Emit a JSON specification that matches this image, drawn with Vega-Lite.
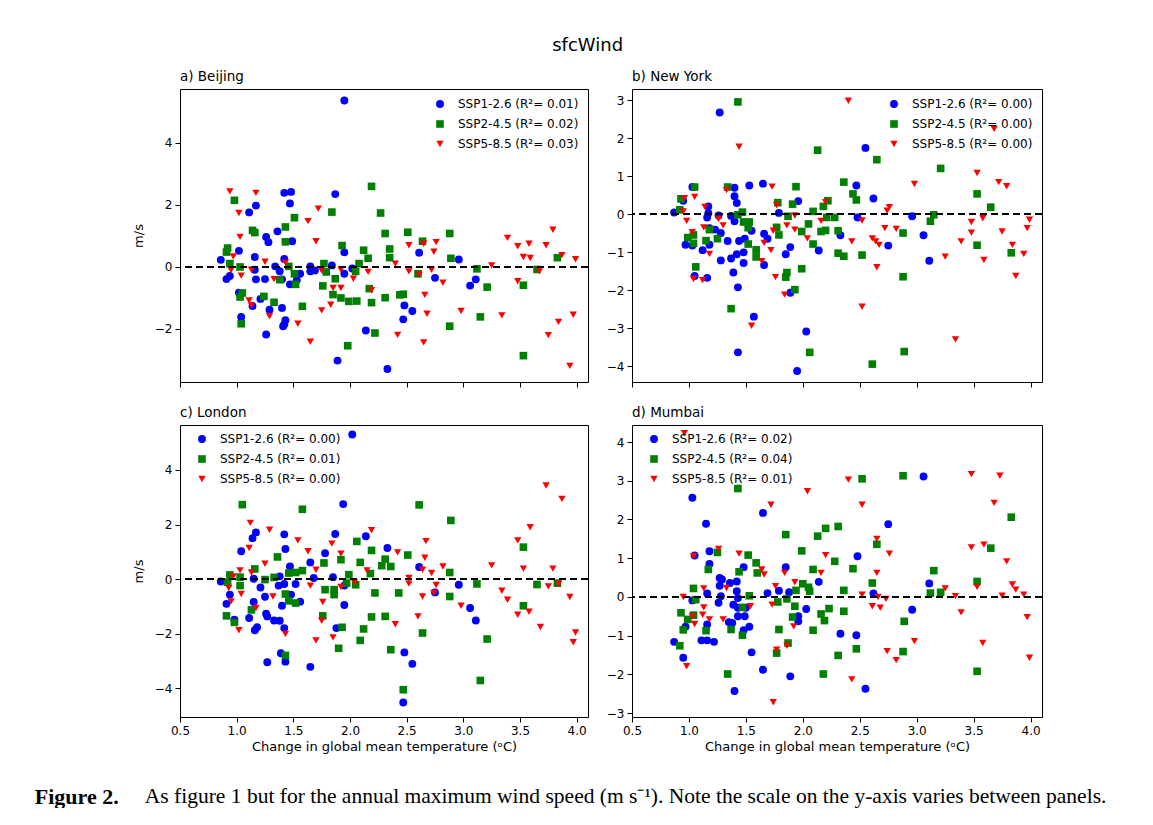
{
  "$schema": "https://vega.github.io/schema/vega-lite/v6.json",
  "background": "white",
  "padding": {"left": 34, "top": 37, "right": 0, "bottom": 0},
  "config": {
    "font": "DejaVu Sans",
    "view": {"stroke": "black", "strokeWidth": 1},
    "axis": {"domain": false, "grid": false, "tickColor": "black", "tickSize": 5, "tickWidth": 1, "labelColor": "black", "labelFontSize": 12, "labelFont": "DejaVu Sans", "titleFont": "DejaVu Sans", "titleFontSize": 13, "titleFontWeight": "normal", "titleColor": "black", "labelPadding": 3},
    "axisY": {"titlePadding": 9},
    "axisX": {"titlePadding": 4, "labelFlush": false},
    "legend": {"symbolOpacity": 1, "labelFontSize": 12, "labelFont": "DejaVu Sans", "labelColor": "black", "rowPadding": 6, "offset": 9, "labelOffset": 12, "padding": 0},
    "point": {"filled": true, "opacity": 1}
  },
  "datasets": {
    "a": [
      {"s":"SSP1-2.6","x":1.42,"y":2.39},{"s":"SSP1-2.6","x":1.48,"y":2.42},{"s":"SSP1-2.6","x":1.47,"y":2.05},{"s":"SSP1-2.6","x":1.17,"y":1.98},{"s":"SSP1-2.6","x":1.11,"y":1.76},{"s":"SSP1-2.6","x":1.36,"y":1.15},{"s":"SSP1-2.6","x":1.26,"y":0.97},{"s":"SSP1-2.6","x":1.28,"y":0.8},{"s":"SSP1-2.6","x":1.49,"y":0.83},{"s":"SSP1-2.6","x":1.02,"y":0.52},{"s":"SSP1-2.6","x":1.16,"y":0.32},{"s":"SSP1-2.6","x":0.86,"y":0.23},{"s":"SSP1-2.6","x":1.42,"y":0.26},{"s":"SSP1-2.6","x":1.16,"y":-0.09},{"s":"SSP1-2.6","x":1.34,"y":0.02},{"s":"SSP1-2.6","x":1.38,"y":-0.14},{"s":"SSP1-2.6","x":1.4,"y":-0.4},{"s":"SSP1-2.6","x":1.65,"y":0.02},{"s":"SSP1-2.6","x":1.65,"y":-0.14},{"s":"SSP1-2.6","x":1.56,"y":-0.22},{"s":"SSP1-2.6","x":0.94,"y":-0.29},{"s":"SSP1-2.6","x":0.91,"y":-0.39},{"s":"SSP1-2.6","x":1.17,"y":-0.4},{"s":"SSP1-2.6","x":1.25,"y":-0.39},{"s":"SSP1-2.6","x":1.47,"y":-0.56},{"s":"SSP1-2.6","x":1.53,"y":-0.43},{"s":"SSP1-2.6","x":1.02,"y":-0.83},{"s":"SSP1-2.6","x":1.21,"y":-1.03},{"s":"SSP1-2.6","x":1.14,"y":-1.26},{"s":"SSP1-2.6","x":1.29,"y":-1.38},{"s":"SSP1-2.6","x":1.4,"y":-1.32},{"s":"SSP1-2.6","x":1.04,"y":-1.61},{"s":"SSP1-2.6","x":1.43,"y":-1.72},{"s":"SSP1-2.6","x":1.41,"y":-1.91},{"s":"SSP1-2.6","x":1.42,"y":-1.85},{"s":"SSP1-2.6","x":1.26,"y":-2.18},{"s":"SSP1-2.6","x":1.95,"y":5.37},{"s":"SSP1-2.6","x":1.87,"y":2.35},{"s":"SSP1-2.6","x":1.95,"y":0.47},{"s":"SSP1-2.6","x":1.84,"y":0.05},{"s":"SSP1-2.6","x":1.69,"y":-0.11},{"s":"SSP1-2.6","x":1.95,"y":-0.22},{"s":"SSP1-2.6","x":2.02,"y":-0.05},{"s":"SSP1-2.6","x":2.61,"y":0.46},{"s":"SSP1-2.6","x":2.75,"y":-0.35},{"s":"SSP1-2.6","x":2.48,"y":-1.24},{"s":"SSP1-2.6","x":2.55,"y":-1.42},{"s":"SSP1-2.6","x":2.47,"y":-1.69},{"s":"SSP1-2.6","x":2.14,"y":-2.05},{"s":"SSP1-2.6","x":1.89,"y":-3.02},{"s":"SSP1-2.6","x":2.33,"y":-3.29},{"s":"SSP1-2.6","x":2.96,"y":0.24},{"s":"SSP1-2.6","x":3.11,"y":-0.4},{"s":"SSP1-2.6","x":3.06,"y":-0.6},
      {"s":"SSP2-4.5","x":0.98,"y":2.15},{"s":"SSP2-4.5","x":1.51,"y":1.59},{"s":"SSP2-4.5","x":1.43,"y":1.29},{"s":"SSP2-4.5","x":1.14,"y":1.18},{"s":"SSP2-4.5","x":1.16,"y":1.11},{"s":"SSP2-4.5","x":1.43,"y":0.81},{"s":"SSP2-4.5","x":0.92,"y":0.61},{"s":"SSP2-4.5","x":0.91,"y":0.48},{"s":"SSP2-4.5","x":0.94,"y":0.11},{"s":"SSP2-4.5","x":1.03,"y":0.0},{"s":"SSP2-4.5","x":1.46,"y":0.02},{"s":"SSP2-4.5","x":1.51,"y":-0.22},{"s":"SSP2-4.5","x":1.38,"y":-0.41},{"s":"SSP2-4.5","x":1.52,"y":-0.56},{"s":"SSP2-4.5","x":1.05,"y":-0.84},{"s":"SSP2-4.5","x":1.03,"y":-0.97},{"s":"SSP2-4.5","x":1.24,"y":-0.95},{"s":"SSP2-4.5","x":1.33,"y":-1.14},{"s":"SSP2-4.5","x":1.58,"y":-1.27},{"s":"SSP2-4.5","x":1.04,"y":-1.83},{"s":"SSP2-4.5","x":2.19,"y":2.6},{"s":"SSP2-4.5","x":1.84,"y":1.77},{"s":"SSP2-4.5","x":2.27,"y":1.74},{"s":"SSP2-4.5","x":2.31,"y":1.08},{"s":"SSP2-4.5","x":2.51,"y":1.12},{"s":"SSP2-4.5","x":2.88,"y":1.08},{"s":"SSP2-4.5","x":1.93,"y":0.69},{"s":"SSP2-4.5","x":2.12,"y":0.54},{"s":"SSP2-4.5","x":2.16,"y":0.28},{"s":"SSP2-4.5","x":2.35,"y":0.58},{"s":"SSP2-4.5","x":2.35,"y":0.3},{"s":"SSP2-4.5","x":2.64,"y":0.83},{"s":"SSP2-4.5","x":2.89,"y":0.28},{"s":"SSP2-4.5","x":1.77,"y":0.11},{"s":"SSP2-4.5","x":2.08,"y":0.11},{"s":"SSP2-4.5","x":1.79,"y":-0.16},{"s":"SSP2-4.5","x":2.05,"y":-0.14},{"s":"SSP2-4.5","x":1.87,"y":-0.38},{"s":"SSP2-4.5","x":2.6,"y":-0.22},{"s":"SSP2-4.5","x":1.76,"y":-0.61},{"s":"SSP2-4.5","x":1.85,"y":-0.89},{"s":"SSP2-4.5","x":1.92,"y":-1.0},{"s":"SSP2-4.5","x":1.99,"y":-1.11},{"s":"SSP2-4.5","x":2.06,"y":-1.1},{"s":"SSP2-4.5","x":2.17,"y":-0.7},{"s":"SSP2-4.5","x":2.19,"y":-1.15},{"s":"SSP2-4.5","x":2.31,"y":-0.99},{"s":"SSP2-4.5","x":2.44,"y":-0.9},{"s":"SSP2-4.5","x":2.47,"y":-0.88},{"s":"SSP2-4.5","x":2.88,"y":-1.91},{"s":"SSP2-4.5","x":2.22,"y":-2.13},{"s":"SSP2-4.5","x":1.98,"y":-2.54},{"s":"SSP2-4.5","x":3.12,"y":-0.06},{"s":"SSP2-4.5","x":3.21,"y":-0.65},{"s":"SSP2-4.5","x":3.53,"y":-0.59},{"s":"SSP2-4.5","x":3.65,"y":-0.08},{"s":"SSP2-4.5","x":3.83,"y":0.3},{"s":"SSP2-4.5","x":3.15,"y":-1.61},{"s":"SSP2-4.5","x":3.53,"y":-2.86},
      {"s":"SSP5-8.5","x":0.94,"y":2.44},{"s":"SSP5-8.5","x":1.17,"y":2.39},{"s":"SSP5-8.5","x":1.02,"y":1.74},{"s":"SSP5-8.5","x":1.72,"y":1.88},{"s":"SSP5-8.5","x":1.63,"y":1.48},{"s":"SSP5-8.5","x":1.03,"y":0.97},{"s":"SSP5-8.5","x":1.7,"y":0.83},{"s":"SSP5-8.5","x":0.97,"y":0.34},{"s":"SSP5-8.5","x":1.25,"y":0.17},{"s":"SSP5-8.5","x":1.43,"y":0.14},{"s":"SSP5-8.5","x":0.95,"y":-0.1},{"s":"SSP5-8.5","x":1.04,"y":-0.28},{"s":"SSP5-8.5","x":1.13,"y":-0.09},{"s":"SSP5-8.5","x":1.33,"y":-0.39},{"s":"SSP5-8.5","x":1.75,"y":-0.12},{"s":"SSP5-8.5","x":1.11,"y":-1.08},{"s":"SSP5-8.5","x":1.13,"y":-1.24},{"s":"SSP5-8.5","x":1.29,"y":-1.59},{"s":"SSP5-8.5","x":1.54,"y":-1.83},{"s":"SSP5-8.5","x":1.65,"y":-2.41},{"s":"SSP5-8.5","x":1.75,"y":-1.4},{"s":"SSP5-8.5","x":1.92,"y":-0.09},{"s":"SSP5-8.5","x":2.03,"y":-0.38},{"s":"SSP5-8.5","x":2.16,"y":-0.16},{"s":"SSP5-8.5","x":1.85,"y":-0.68},{"s":"SSP5-8.5","x":1.92,"y":-0.68},{"s":"SSP5-8.5","x":2.19,"y":-0.75},{"s":"SSP5-8.5","x":1.83,"y":-1.22},{"s":"SSP5-8.5","x":2.4,"y":0.11},{"s":"SSP5-8.5","x":2.52,"y":-0.14},{"s":"SSP5-8.5","x":2.52,"y":0.7},{"s":"SSP5-8.5","x":2.65,"y":0.75},{"s":"SSP5-8.5","x":2.76,"y":0.8},{"s":"SSP5-8.5","x":2.74,"y":0.49},{"s":"SSP5-8.5","x":2.61,"y":-0.25},{"s":"SSP5-8.5","x":2.72,"y":-0.09},{"s":"SSP5-8.5","x":2.82,"y":-0.51},{"s":"SSP5-8.5","x":2.66,"y":-0.9},{"s":"SSP5-8.5","x":2.68,"y":-1.51},{"s":"SSP5-8.5","x":2.42,"y":-2.19},{"s":"SSP5-8.5","x":2.65,"y":-2.43},{"s":"SSP5-8.5","x":3.25,"y":0.05},{"s":"SSP5-8.5","x":3.39,"y":0.94},{"s":"SSP5-8.5","x":3.48,"y":0.67},{"s":"SSP5-8.5","x":3.58,"y":0.75},{"s":"SSP5-8.5","x":3.53,"y":0.32},{"s":"SSP5-8.5","x":3.59,"y":0.29},{"s":"SSP5-8.5","x":3.73,"y":0.7},{"s":"SSP5-8.5","x":3.79,"y":1.2},{"s":"SSP5-8.5","x":3.87,"y":0.38},{"s":"SSP5-8.5","x":3.99,"y":0.25},{"s":"SSP5-8.5","x":3.67,"y":-0.14},{"s":"SSP5-8.5","x":3.48,"y":-0.46},{"s":"SSP5-8.5","x":2.98,"y":-1.42},{"s":"SSP5-8.5","x":3.34,"y":-1.56},{"s":"SSP5-8.5","x":3.97,"y":-1.54},{"s":"SSP5-8.5","x":3.84,"y":-1.77},{"s":"SSP5-8.5","x":3.75,"y":-2.2},{"s":"SSP5-8.5","x":3.94,"y":-3.19}
    ],
    "b": [
      {"s":"SSP1-2.6","x":1.27,"y":2.67},{"s":"SSP1-2.6","x":1.03,"y":0.71},{"s":"SSP1-2.6","x":1.53,"y":0.75},{"s":"SSP1-2.6","x":1.65,"y":0.8},{"s":"SSP1-2.6","x":1.4,"y":0.69},{"s":"SSP1-2.6","x":1.4,"y":0.47},{"s":"SSP1-2.6","x":1.42,"y":0.29},{"s":"SSP1-2.6","x":1.17,"y":0.2},{"s":"SSP1-2.6","x":0.87,"y":0.04},{"s":"SSP1-2.6","x":0.95,"y":0.35},{"s":"SSP1-2.6","x":1.17,"y":0.02},{"s":"SSP1-2.6","x":1.16,"y":-0.09},{"s":"SSP1-2.6","x":1.26,"y":-0.04},{"s":"SSP1-2.6","x":1.37,"y":-0.05},{"s":"SSP1-2.6","x":1.4,"y":-0.19},{"s":"SSP1-2.6","x":1.49,"y":-0.65},{"s":"SSP1-2.6","x":1.55,"y":-0.44},{"s":"SSP1-2.6","x":1.66,"y":-0.52},{"s":"SSP1-2.6","x":1.69,"y":-0.65},{"s":"SSP1-2.6","x":1.18,"y":-0.37},{"s":"SSP1-2.6","x":1.23,"y":-0.41},{"s":"SSP1-2.6","x":1.28,"y":-0.5},{"s":"SSP1-2.6","x":1.34,"y":-0.71},{"s":"SSP1-2.6","x":1.44,"y":-0.71},{"s":"SSP1-2.6","x":0.97,"y":-0.81},{"s":"SSP1-2.6","x":1.03,"y":-0.83},{"s":"SSP1-2.6","x":1.12,"y":-0.95},{"s":"SSP1-2.6","x":1.18,"y":-0.81},{"s":"SSP1-2.6","x":1.28,"y":-1.22},{"s":"SSP1-2.6","x":1.37,"y":-1.17},{"s":"SSP1-2.6","x":1.42,"y":-1.06},{"s":"SSP1-2.6","x":1.48,"y":-1.01},{"s":"SSP1-2.6","x":1.48,"y":-1.29},{"s":"SSP1-2.6","x":1.66,"y":-1.34},{"s":"SSP1-2.6","x":1.39,"y":-1.54},{"s":"SSP1-2.6","x":1.05,"y":-1.63},{"s":"SSP1-2.6","x":1.16,"y":-1.68},{"s":"SSP1-2.6","x":1.43,"y":-1.93},{"s":"SSP1-2.6","x":1.57,"y":-2.7},{"s":"SSP1-2.6","x":1.43,"y":-3.64},{"s":"SSP1-2.6","x":2.55,"y":1.74},{"s":"SSP1-2.6","x":2.47,"y":0.75},{"s":"SSP1-2.6","x":2.62,"y":0.41},{"s":"SSP1-2.6","x":1.96,"y":0.34},{"s":"SSP1-2.6","x":1.79,"y":0.03},{"s":"SSP1-2.6","x":2.48,"y":-0.09},{"s":"SSP1-2.6","x":2.33,"y":-0.56},{"s":"SSP1-2.6","x":1.89,"y":-0.87},{"s":"SSP1-2.6","x":1.85,"y":-1.06},{"s":"SSP1-2.6","x":2.14,"y":-0.96},{"s":"SSP1-2.6","x":2.75,"y":-0.83},{"s":"SSP1-2.6","x":1.89,"y":-2.07},{"s":"SSP1-2.6","x":2.03,"y":-3.09},{"s":"SSP1-2.6","x":1.95,"y":-4.13},{"s":"SSP1-2.6","x":2.96,"y":-0.06},{"s":"SSP1-2.6","x":3.06,"y":-0.56},{"s":"SSP1-2.6","x":3.11,"y":-1.23},
      {"s":"SSP2-4.5","x":1.43,"y":2.95},{"s":"SSP2-4.5","x":1.05,"y":0.71},{"s":"SSP2-4.5","x":1.34,"y":0.71},{"s":"SSP2-4.5","x":0.93,"y":0.4},{"s":"SSP2-4.5","x":0.92,"y":0.11},{"s":"SSP2-4.5","x":1.47,"y":0.05},{"s":"SSP2-4.5","x":1.43,"y":-0.02},{"s":"SSP2-4.5","x":1.48,"y":-0.21},{"s":"SSP2-4.5","x":1.53,"y":-0.21},{"s":"SSP2-4.5","x":1.52,"y":-0.36},{"s":"SSP2-4.5","x":1.18,"y":-0.41},{"s":"SSP2-4.5","x":1.25,"y":-0.65},{"s":"SSP2-4.5","x":1.15,"y":-0.7},{"s":"SSP2-4.5","x":0.99,"y":-0.62},{"s":"SSP2-4.5","x":1.04,"y":-0.55},{"s":"SSP2-4.5","x":1.04,"y":-0.77},{"s":"SSP2-4.5","x":1.52,"y":-0.79},{"s":"SSP2-4.5","x":1.59,"y":-0.94},{"s":"SSP2-4.5","x":1.59,"y":-1.13},{"s":"SSP2-4.5","x":1.06,"y":-1.39},{"s":"SSP2-4.5","x":1.37,"y":-2.49},{"s":"SSP2-4.5","x":2.13,"y":1.68},{"s":"SSP2-4.5","x":2.65,"y":1.43},{"s":"SSP2-4.5","x":2.36,"y":0.84},{"s":"SSP2-4.5","x":1.94,"y":0.72},{"s":"SSP2-4.5","x":2.44,"y":0.53},{"s":"SSP2-4.5","x":2.47,"y":0.37},{"s":"SSP2-4.5","x":1.78,"y":0.3},{"s":"SSP2-4.5","x":1.91,"y":0.26},{"s":"SSP2-4.5","x":2.22,"y":0.35},{"s":"SSP2-4.5","x":2.18,"y":0.2},{"s":"SSP2-4.5","x":2.09,"y":0.07},{"s":"SSP2-4.5","x":1.87,"y":-0.06},{"s":"SSP2-4.5","x":2.21,"y":-0.09},{"s":"SSP2-4.5","x":2.28,"y":-0.09},{"s":"SSP2-4.5","x":2.05,"y":-0.26},{"s":"SSP2-4.5","x":1.77,"y":-0.35},{"s":"SSP2-4.5","x":1.79,"y":-0.55},{"s":"SSP2-4.5","x":1.99,"y":-0.46},{"s":"SSP2-4.5","x":2.16,"y":-0.46},{"s":"SSP2-4.5","x":2.2,"y":-0.43},{"s":"SSP2-4.5","x":2.31,"y":-0.44},{"s":"SSP2-4.5","x":2.09,"y":-0.79},{"s":"SSP2-4.5","x":2.31,"y":-1.03},{"s":"SSP2-4.5","x":2.36,"y":-1.11},{"s":"SSP2-4.5","x":2.52,"y":-1.08},{"s":"SSP2-4.5","x":1.99,"y":-1.44},{"s":"SSP2-4.5","x":1.86,"y":-1.54},{"s":"SSP2-4.5","x":1.85,"y":-1.66},{"s":"SSP2-4.5","x":1.93,"y":-1.99},{"s":"SSP2-4.5","x":2.06,"y":-3.64},{"s":"SSP2-4.5","x":2.61,"y":-3.95},{"s":"SSP2-4.5","x":3.21,"y":1.2},{"s":"SSP2-4.5","x":3.53,"y":0.53},{"s":"SSP2-4.5","x":3.65,"y":0.18},{"s":"SSP2-4.5","x":3.15,"y":-0.02},{"s":"SSP2-4.5","x":3.12,"y":-0.19},{"s":"SSP2-4.5","x":2.88,"y":-0.5},{"s":"SSP2-4.5","x":3.53,"y":-0.82},{"s":"SSP2-4.5","x":3.83,"y":-1.02},{"s":"SSP2-4.5","x":2.88,"y":-1.65},{"s":"SSP2-4.5","x":2.89,"y":-3.62},
      {"s":"SSP5-8.5","x":1.44,"y":1.77},{"s":"SSP5-8.5","x":0.96,"y":0.42},{"s":"SSP5-8.5","x":1.05,"y":0.45},{"s":"SSP5-8.5","x":1.33,"y":0.63},{"s":"SSP5-8.5","x":1.14,"y":0.19},{"s":"SSP5-8.5","x":0.95,"y":0.07},{"s":"SSP5-8.5","x":0.98,"y":-0.18},{"s":"SSP5-8.5","x":1.26,"y":-0.13},{"s":"SSP5-8.5","x":1.3,"y":-0.3},{"s":"SSP5-8.5","x":1.13,"y":-0.35},{"s":"SSP5-8.5","x":1.03,"y":-0.48},{"s":"SSP5-8.5","x":1.18,"y":-1.05},{"s":"SSP5-8.5","x":1.66,"y":-0.76},{"s":"SSP5-8.5","x":1.64,"y":-1.24},{"s":"SSP5-8.5","x":1.04,"y":-1.71},{"s":"SSP5-8.5","x":1.12,"y":-1.74},{"s":"SSP5-8.5","x":1.55,"y":-2.94},{"s":"SSP5-8.5","x":2.4,"y":2.98},{"s":"SSP5-8.5","x":1.73,"y":0.72},{"s":"SSP5-8.5","x":1.77,"y":0.23},{"s":"SSP5-8.5","x":2.2,"y":0.31},{"s":"SSP5-8.5","x":1.93,"y":-0.04},{"s":"SSP5-8.5","x":2.16,"y":-0.18},{"s":"SSP5-8.5","x":2.52,"y":-0.17},{"s":"SSP5-8.5","x":2.76,"y":0.18},{"s":"SSP5-8.5","x":2.74,"y":0.09},{"s":"SSP5-8.5","x":1.86,"y":-0.3},{"s":"SSP5-8.5","x":1.93,"y":-0.41},{"s":"SSP5-8.5","x":1.74,"y":-0.44},{"s":"SSP5-8.5","x":2.04,"y":-0.64},{"s":"SSP5-8.5","x":1.72,"y":-0.95},{"s":"SSP5-8.5","x":2.43,"y":-0.72},{"s":"SSP5-8.5","x":2.61,"y":-0.64},{"s":"SSP5-8.5","x":2.64,"y":-0.72},{"s":"SSP5-8.5","x":2.67,"y":-0.81},{"s":"SSP5-8.5","x":2.72,"y":-0.37},{"s":"SSP5-8.5","x":2.82,"y":-0.39},{"s":"SSP5-8.5","x":2.65,"y":-1.4},{"s":"SSP5-8.5","x":1.76,"y":-1.66},{"s":"SSP5-8.5","x":1.84,"y":-2.12},{"s":"SSP5-8.5","x":2.52,"y":-2.44},{"s":"SSP5-8.5","x":3.68,"y":2.24},{"s":"SSP5-8.5","x":3.53,"y":1.08},{"s":"SSP5-8.5","x":2.98,"y":0.79},{"s":"SSP5-8.5","x":3.72,"y":0.84},{"s":"SSP5-8.5","x":3.79,"y":0.73},{"s":"SSP5-8.5","x":3.48,"y":-0.21},{"s":"SSP5-8.5","x":3.58,"y":-0.11},{"s":"SSP5-8.5","x":3.99,"y":-0.15},{"s":"SSP5-8.5","x":3.97,"y":-0.37},{"s":"SSP5-8.5","x":3.48,"y":-0.49},{"s":"SSP5-8.5","x":3.75,"y":-0.46},{"s":"SSP5-8.5","x":3.39,"y":-0.72},{"s":"SSP5-8.5","x":3.84,"y":-0.81},{"s":"SSP5-8.5","x":3.94,"y":-1.05},{"s":"SSP5-8.5","x":3.25,"y":-1.12},{"s":"SSP5-8.5","x":3.59,"y":-1.21},{"s":"SSP5-8.5","x":3.87,"y":-1.63},{"s":"SSP5-8.5","x":3.34,"y":-3.3}
    ],
    "c": [
      {"s":"SSP1-2.6","x":1.17,"y":1.71},{"s":"SSP1-2.6","x":1.14,"y":1.5},{"s":"SSP1-2.6","x":1.42,"y":1.64},{"s":"SSP1-2.6","x":1.04,"y":1.02},{"s":"SSP1-2.6","x":1.43,"y":1.1},{"s":"SSP1-2.6","x":1.65,"y":0.61},{"s":"SSP1-2.6","x":1.47,"y":0.46},{"s":"SSP1-2.6","x":0.86,"y":-0.09},{"s":"SSP1-2.6","x":1.15,"y":0.01},{"s":"SSP1-2.6","x":1.21,"y":-0.31},{"s":"SSP1-2.6","x":1.38,"y":0.1},{"s":"SSP1-2.6","x":1.37,"y":-0.24},{"s":"SSP1-2.6","x":1.42,"y":-0.18},{"s":"SSP1-2.6","x":1.52,"y":-0.18},{"s":"SSP1-2.6","x":1.68,"y":0.04},{"s":"SSP1-2.6","x":0.94,"y":-0.57},{"s":"SSP1-2.6","x":0.91,"y":-0.91},{"s":"SSP1-2.6","x":1.15,"y":-0.84},{"s":"SSP1-2.6","x":1.25,"y":-0.65},{"s":"SSP1-2.6","x":1.4,"y":-0.98},{"s":"SSP1-2.6","x":1.48,"y":-0.57},{"s":"SSP1-2.6","x":1.56,"y":-0.83},{"s":"SSP1-2.6","x":0.98,"y":-1.49},{"s":"SSP1-2.6","x":1.11,"y":-1.43},{"s":"SSP1-2.6","x":1.26,"y":-1.27},{"s":"SSP1-2.6","x":1.27,"y":-1.37},{"s":"SSP1-2.6","x":1.33,"y":-1.52},{"s":"SSP1-2.6","x":1.38,"y":-1.53},{"s":"SSP1-2.6","x":1.18,"y":-1.77},{"s":"SSP1-2.6","x":1.16,"y":-1.88},{"s":"SSP1-2.6","x":1.42,"y":-1.8},{"s":"SSP1-2.6","x":1.39,"y":-2.72},{"s":"SSP1-2.6","x":1.43,"y":-3.03},{"s":"SSP1-2.6","x":1.27,"y":-3.05},{"s":"SSP1-2.6","x":1.65,"y":-3.22},{"s":"SSP1-2.6","x":2.02,"y":5.3},{"s":"SSP1-2.6","x":1.94,"y":2.75},{"s":"SSP1-2.6","x":2.14,"y":1.57},{"s":"SSP1-2.6","x":1.87,"y":1.65},{"s":"SSP1-2.6","x":1.78,"y":0.95},{"s":"SSP1-2.6","x":2.33,"y":1.14},{"s":"SSP1-2.6","x":1.85,"y":0.07},{"s":"SSP1-2.6","x":1.95,"y":-0.24},{"s":"SSP1-2.6","x":2.61,"y":0.44},{"s":"SSP1-2.6","x":2.75,"y":-0.49},{"s":"SSP1-2.6","x":1.95,"y":-0.95},{"s":"SSP1-2.6","x":1.88,"y":-1.8},{"s":"SSP1-2.6","x":2.48,"y":-2.69},{"s":"SSP1-2.6","x":2.55,"y":-3.11},{"s":"SSP1-2.6","x":2.47,"y":-4.53},{"s":"SSP1-2.6","x":2.96,"y":-0.21},{"s":"SSP1-2.6","x":3.06,"y":-1.06},{"s":"SSP1-2.6","x":3.11,"y":-1.52},
      {"s":"SSP2-4.5","x":1.05,"y":2.73},{"s":"SSP2-4.5","x":1.58,"y":2.56},{"s":"SSP2-4.5","x":1.36,"y":0.81},{"s":"SSP2-4.5","x":1.16,"y":0.37},{"s":"SSP2-4.5","x":0.94,"y":0.15},{"s":"SSP2-4.5","x":0.92,"y":-0.12},{"s":"SSP2-4.5","x":1.03,"y":0.07},{"s":"SSP2-4.5","x":1.03,"y":-0.24},{"s":"SSP2-4.5","x":1.25,"y":-0.02},{"s":"SSP2-4.5","x":1.33,"y":0.06},{"s":"SSP2-4.5","x":1.46,"y":0.22},{"s":"SSP2-4.5","x":1.52,"y":0.24},{"s":"SSP2-4.5","x":1.58,"y":0.31},{"s":"SSP2-4.5","x":1.43,"y":-0.55},{"s":"SSP2-4.5","x":1.46,"y":-0.8},{"s":"SSP2-4.5","x":1.52,"y":-0.88},{"s":"SSP2-4.5","x":1.13,"y":-1.13},{"s":"SSP2-4.5","x":0.91,"y":-1.35},{"s":"SSP2-4.5","x":0.98,"y":-1.59},{"s":"SSP2-4.5","x":1.43,"y":-2.8},{"s":"SSP2-4.5","x":2.61,"y":2.72},{"s":"SSP2-4.5","x":2.89,"y":2.15},{"s":"SSP2-4.5","x":2.06,"y":1.38},{"s":"SSP2-4.5","x":2.19,"y":1.05},{"s":"SSP2-4.5","x":2.51,"y":0.88},{"s":"SSP2-4.5","x":1.92,"y":0.71},{"s":"SSP2-4.5","x":1.77,"y":0.59},{"s":"SSP2-4.5","x":2.09,"y":0.61},{"s":"SSP2-4.5","x":2.31,"y":0.73},{"s":"SSP2-4.5","x":2.28,"y":0.49},{"s":"SSP2-4.5","x":2.36,"y":0.46},{"s":"SSP2-4.5","x":1.99,"y":0.16},{"s":"SSP2-4.5","x":1.97,"y":-0.15},{"s":"SSP2-4.5","x":2.05,"y":-0.21},{"s":"SSP2-4.5","x":1.78,"y":-0.39},{"s":"SSP2-4.5","x":1.86,"y":-0.39},{"s":"SSP2-4.5","x":1.86,"y":-0.57},{"s":"SSP2-4.5","x":2.18,"y":0.2},{"s":"SSP2-4.5","x":2.22,"y":-0.51},{"s":"SSP2-4.5","x":2.43,"y":-0.51},{"s":"SSP2-4.5","x":2.88,"y":0.24},{"s":"SSP2-4.5","x":2.88,"y":-0.64},{"s":"SSP2-4.5","x":1.76,"y":-1.35},{"s":"SSP2-4.5","x":2.19,"y":-1.39},{"s":"SSP2-4.5","x":2.31,"y":-1.37},{"s":"SSP2-4.5","x":1.93,"y":-1.77},{"s":"SSP2-4.5","x":2.12,"y":-1.83},{"s":"SSP2-4.5","x":2.64,"y":-1.98},{"s":"SSP2-4.5","x":2.09,"y":-2.25},{"s":"SSP2-4.5","x":1.9,"y":-2.54},{"s":"SSP2-4.5","x":2.36,"y":-2.59},{"s":"SSP2-4.5","x":2.47,"y":-4.06},{"s":"SSP2-4.5","x":3.12,"y":-0.18},{"s":"SSP2-4.5","x":3.53,"y":1.17},{"s":"SSP2-4.5","x":3.53,"y":-0.98},{"s":"SSP2-4.5","x":3.65,"y":-0.2},{"s":"SSP2-4.5","x":3.83,"y":-0.15},{"s":"SSP2-4.5","x":3.21,"y":-2.2},{"s":"SSP2-4.5","x":3.15,"y":-3.72},
      {"s":"SSP5-8.5","x":1.12,"y":2.06},{"s":"SSP5-8.5","x":1.29,"y":1.81},{"s":"SSP5-8.5","x":1.54,"y":1.42},{"s":"SSP5-8.5","x":1.11,"y":1.14},{"s":"SSP5-8.5","x":1.63,"y":1.02},{"s":"SSP5-8.5","x":1.25,"y":0.56},{"s":"SSP5-8.5","x":1.03,"y":0.32},{"s":"SSP5-8.5","x":1.13,"y":0.24},{"s":"SSP5-8.5","x":0.97,"y":0.1},{"s":"SSP5-8.5","x":1.7,"y":0.34},{"s":"SSP5-8.5","x":0.93,"y":-0.33},{"s":"SSP5-8.5","x":1.04,"y":-0.55},{"s":"SSP5-8.5","x":1.65,"y":-0.24},{"s":"SSP5-8.5","x":0.95,"y":-0.82},{"s":"SSP5-8.5","x":1.32,"y":-0.64},{"s":"SSP5-8.5","x":1.17,"y":-1.06},{"s":"SSP5-8.5","x":1.02,"y":-1.88},{"s":"SSP5-8.5","x":1.43,"y":-2.01},{"s":"SSP5-8.5","x":1.7,"y":-2.25},{"s":"SSP5-8.5","x":2.19,"y":1.79},{"s":"SSP5-8.5","x":2.67,"y":1.39},{"s":"SSP5-8.5","x":1.84,"y":1.3},{"s":"SSP5-8.5","x":1.92,"y":0.93},{"s":"SSP5-8.5","x":2.42,"y":0.98},{"s":"SSP5-8.5","x":2.66,"y":0.78},{"s":"SSP5-8.5","x":2.15,"y":0.32},{"s":"SSP5-8.5","x":2.64,"y":0.34},{"s":"SSP5-8.5","x":2.72,"y":0.22},{"s":"SSP5-8.5","x":2.82,"y":0.46},{"s":"SSP5-8.5","x":2.52,"y":0.04},{"s":"SSP5-8.5","x":2.52,"y":-0.17},{"s":"SSP5-8.5","x":2.04,"y":-0.12},{"s":"SSP5-8.5","x":1.92,"y":-0.29},{"s":"SSP5-8.5","x":2.76,"y":-0.22},{"s":"SSP5-8.5","x":2.64,"y":-0.64},{"s":"SSP5-8.5","x":2.74,"y":-0.51},{"s":"SSP5-8.5","x":1.76,"y":-0.84},{"s":"SSP5-8.5","x":1.75,"y":-1.53},{"s":"SSP5-8.5","x":2.6,"y":-1.37},{"s":"SSP5-8.5","x":2.4,"y":-1.66},{"s":"SSP5-8.5","x":1.85,"y":-2.14},{"s":"SSP5-8.5","x":3.73,"y":3.43},{"s":"SSP5-8.5","x":3.87,"y":2.94},{"s":"SSP5-8.5","x":3.59,"y":1.9},{"s":"SSP5-8.5","x":3.48,"y":1.42},{"s":"SSP5-8.5","x":3.25,"y":0.5},{"s":"SSP5-8.5","x":3.53,"y":0.38},{"s":"SSP5-8.5","x":3.79,"y":0.38},{"s":"SSP5-8.5","x":3.75,"y":-0.27},{"s":"SSP5-8.5","x":3.84,"y":-0.18},{"s":"SSP5-8.5","x":3.34,"y":-0.43},{"s":"SSP5-8.5","x":3.39,"y":-0.76},{"s":"SSP5-8.5","x":3.94,"y":-0.66},{"s":"SSP5-8.5","x":2.98,"y":-0.98},{"s":"SSP5-8.5","x":3.48,"y":-1.31},{"s":"SSP5-8.5","x":3.58,"y":-1.2},{"s":"SSP5-8.5","x":3.68,"y":-1.76},{"s":"SSP5-8.5","x":3.99,"y":-1.96},{"s":"SSP5-8.5","x":3.97,"y":-2.32}
    ],
    "d": [
      {"s":"SSP1-2.6","x":1.03,"y":2.56},{"s":"SSP1-2.6","x":1.15,"y":1.89},{"s":"SSP1-2.6","x":1.65,"y":2.17},{"s":"SSP1-2.6","x":1.18,"y":1.18},{"s":"SSP1-2.6","x":1.05,"y":1.07},{"s":"SSP1-2.6","x":1.18,"y":0.85},{"s":"SSP1-2.6","x":1.48,"y":0.77},{"s":"SSP1-2.6","x":1.27,"y":0.49},{"s":"SSP1-2.6","x":1.29,"y":0.45},{"s":"SSP1-2.6","x":1.27,"y":0.29},{"s":"SSP1-2.6","x":1.42,"y":0.4},{"s":"SSP1-2.6","x":1.36,"y":0.36},{"s":"SSP1-2.6","x":1.16,"y":0.09},{"s":"SSP1-2.6","x":1.28,"y":0.02},{"s":"SSP1-2.6","x":1.42,"y":0.15},{"s":"SSP1-2.6","x":1.43,"y":-0.03},{"s":"SSP1-2.6","x":1.26,"y":-0.15},{"s":"SSP1-2.6","x":1.03,"y":-0.09},{"s":"SSP1-2.6","x":1.39,"y":-0.2},{"s":"SSP1-2.6","x":1.43,"y":-0.28},{"s":"SSP1-2.6","x":1.69,"y":0.1},{"s":"SSP1-2.6","x":1.5,"y":-0.28},{"s":"SSP1-2.6","x":1.43,"y":-0.5},{"s":"SSP1-2.6","x":1.49,"y":-0.5},{"s":"SSP1-2.6","x":1.35,"y":-0.65},{"s":"SSP1-2.6","x":1.38,"y":-0.67},{"s":"SSP1-2.6","x":1.16,"y":-0.71},{"s":"SSP1-2.6","x":0.97,"y":-0.77},{"s":"SSP1-2.6","x":1.53,"y":-0.77},{"s":"SSP1-2.6","x":1.48,"y":-0.86},{"s":"SSP1-2.6","x":1.11,"y":-1.12},{"s":"SSP1-2.6","x":1.16,"y":-1.12},{"s":"SSP1-2.6","x":1.22,"y":-1.16},{"s":"SSP1-2.6","x":0.87,"y":-1.16},{"s":"SSP1-2.6","x":1.55,"y":-1.43},{"s":"SSP1-2.6","x":0.95,"y":-1.57},{"s":"SSP1-2.6","x":1.65,"y":-1.88},{"s":"SSP1-2.6","x":1.4,"y":-2.43},{"s":"SSP1-2.6","x":2.75,"y":1.88},{"s":"SSP1-2.6","x":2.48,"y":1.05},{"s":"SSP1-2.6","x":1.85,"y":0.77},{"s":"SSP1-2.6","x":2.14,"y":0.39},{"s":"SSP1-2.6","x":1.79,"y":0.16},{"s":"SSP1-2.6","x":1.88,"y":0.12},{"s":"SSP1-2.6","x":2.62,"y":0.09},{"s":"SSP1-2.6","x":2.03,"y":-0.31},{"s":"SSP1-2.6","x":1.96,"y":-0.5},{"s":"SSP1-2.6","x":1.96,"y":-0.63},{"s":"SSP1-2.6","x":2.33,"y":-0.95},{"s":"SSP1-2.6","x":2.47,"y":-0.99},{"s":"SSP1-2.6","x":1.89,"y":-2.05},{"s":"SSP1-2.6","x":2.55,"y":-2.37},{"s":"SSP1-2.6","x":3.06,"y":3.11},{"s":"SSP1-2.6","x":3.11,"y":0.35},{"s":"SSP1-2.6","x":2.96,"y":-0.33},
      {"s":"SSP2-4.5","x":1.43,"y":2.8},{"s":"SSP2-4.5","x":1.25,"y":1.15},{"s":"SSP2-4.5","x":1.52,"y":1.08},{"s":"SSP2-4.5","x":1.59,"y":0.88},{"s":"SSP2-4.5","x":1.6,"y":0.62},{"s":"SSP2-4.5","x":1.17,"y":0.71},{"s":"SSP2-4.5","x":1.44,"y":0.65},{"s":"SSP2-4.5","x":1.04,"y":0.22},{"s":"SSP2-4.5","x":1.06,"y":-0.07},{"s":"SSP2-4.5","x":1.53,"y":0.03},{"s":"SSP2-4.5","x":1.47,"y":-0.27},{"s":"SSP2-4.5","x":1.04,"y":-0.47},{"s":"SSP2-4.5","x":0.93,"y":-0.41},{"s":"SSP2-4.5","x":0.99,"y":-0.58},{"s":"SSP2-4.5","x":1.37,"y":-0.84},{"s":"SSP2-4.5","x":1.15,"y":-0.87},{"s":"SSP2-4.5","x":0.95,"y":-0.85},{"s":"SSP2-4.5","x":1.47,"y":-0.99},{"s":"SSP2-4.5","x":0.92,"y":-1.26},{"s":"SSP2-4.5","x":1.34,"y":-1.99},{"s":"SSP2-4.5","x":2.52,"y":3.05},{"s":"SSP2-4.5","x":2.88,"y":3.13},{"s":"SSP2-4.5","x":2.31,"y":1.82},{"s":"SSP2-4.5","x":2.2,"y":1.77},{"s":"SSP2-4.5","x":2.13,"y":1.57},{"s":"SSP2-4.5","x":1.85,"y":1.61},{"s":"SSP2-4.5","x":1.99,"y":1.19},{"s":"SSP2-4.5","x":2.65,"y":1.36},{"s":"SSP2-4.5","x":2.28,"y":0.92},{"s":"SSP2-4.5","x":2.44,"y":0.73},{"s":"SSP2-4.5","x":2.09,"y":0.71},{"s":"SSP2-4.5","x":2.61,"y":0.36},{"s":"SSP2-4.5","x":2.0,"y":0.34},{"s":"SSP2-4.5","x":2.05,"y":0.25},{"s":"SSP2-4.5","x":2.06,"y":0.15},{"s":"SSP2-4.5","x":1.94,"y":0.17},{"s":"SSP2-4.5","x":2.36,"y":0.17},{"s":"SSP2-4.5","x":1.86,"y":-0.05},{"s":"SSP2-4.5","x":1.78,"y":-0.13},{"s":"SSP2-4.5","x":1.93,"y":-0.24},{"s":"SSP2-4.5","x":2.23,"y":-0.3},{"s":"SSP2-4.5","x":2.36,"y":-0.37},{"s":"SSP2-4.5","x":2.16,"y":-0.44},{"s":"SSP2-4.5","x":2.19,"y":-0.61},{"s":"SSP2-4.5","x":1.91,"y":-0.52},{"s":"SSP2-4.5","x":2.89,"y":-0.63},{"s":"SSP2-4.5","x":1.79,"y":-0.84},{"s":"SSP2-4.5","x":2.09,"y":-0.86},{"s":"SSP2-4.5","x":1.87,"y":-1.19},{"s":"SSP2-4.5","x":1.77,"y":-1.45},{"s":"SSP2-4.5","x":2.47,"y":-1.34},{"s":"SSP2-4.5","x":2.88,"y":-1.41},{"s":"SSP2-4.5","x":2.31,"y":-1.51},{"s":"SSP2-4.5","x":2.18,"y":-1.99},{"s":"SSP2-4.5","x":3.83,"y":2.06},{"s":"SSP2-4.5","x":3.65,"y":1.26},{"s":"SSP2-4.5","x":3.15,"y":0.68},{"s":"SSP2-4.5","x":3.53,"y":0.4},{"s":"SSP2-4.5","x":3.12,"y":0.1},{"s":"SSP2-4.5","x":3.21,"y":0.12},{"s":"SSP2-4.5","x":3.53,"y":-1.92},
      {"s":"SSP5-8.5","x":0.96,"y":4.23},{"s":"SSP5-8.5","x":1.72,"y":2.38},{"s":"SSP5-8.5","x":1.04,"y":1.05},{"s":"SSP5-8.5","x":1.26,"y":1.24},{"s":"SSP5-8.5","x":1.44,"y":1.12},{"s":"SSP5-8.5","x":1.64,"y":0.71},{"s":"SSP5-8.5","x":1.66,"y":0.58},{"s":"SSP5-8.5","x":1.13,"y":0.22},{"s":"SSP5-8.5","x":1.33,"y":0.23},{"s":"SSP5-8.5","x":0.95,"y":0.0},{"s":"SSP5-8.5","x":1.13,"y":-0.27},{"s":"SSP5-8.5","x":1.54,"y":-0.24},{"s":"SSP5-8.5","x":1.03,"y":-0.5},{"s":"SSP5-8.5","x":1.12,"y":-0.46},{"s":"SSP5-8.5","x":1.18,"y":-0.58},{"s":"SSP5-8.5","x":1.3,"y":-0.58},{"s":"SSP5-8.5","x":1.05,"y":-0.7},{"s":"SSP5-8.5","x":1.73,"y":-0.2},{"s":"SSP5-8.5","x":0.98,"y":-1.79},{"s":"SSP5-8.5","x":1.74,"y":-2.72},{"s":"SSP5-8.5","x":2.4,"y":3.03},{"s":"SSP5-8.5","x":2.04,"y":2.73},{"s":"SSP5-8.5","x":2.52,"y":2.38},{"s":"SSP5-8.5","x":2.65,"y":1.5},{"s":"SSP5-8.5","x":2.76,"y":1.12},{"s":"SSP5-8.5","x":2.2,"y":1.08},{"s":"SSP5-8.5","x":1.84,"y":0.62},{"s":"SSP5-8.5","x":2.16,"y":0.62},{"s":"SSP5-8.5","x":2.65,"y":0.62},{"s":"SSP5-8.5","x":1.93,"y":0.38},{"s":"SSP5-8.5","x":1.76,"y":0.28},{"s":"SSP5-8.5","x":2.52,"y":0.06},{"s":"SSP5-8.5","x":2.66,"y":0.0},{"s":"SSP5-8.5","x":2.73,"y":-0.05},{"s":"SSP5-8.5","x":2.61,"y":-0.24},{"s":"SSP5-8.5","x":2.68,"y":-0.28},{"s":"SSP5-8.5","x":1.92,"y":-0.76},{"s":"SSP5-8.5","x":1.77,"y":-1.36},{"s":"SSP5-8.5","x":1.86,"y":-1.26},{"s":"SSP5-8.5","x":2.74,"y":-1.4},{"s":"SSP5-8.5","x":2.82,"y":-1.63},{"s":"SSP5-8.5","x":2.43,"y":-2.13},{"s":"SSP5-8.5","x":3.48,"y":3.17},{"s":"SSP5-8.5","x":3.73,"y":3.13},{"s":"SSP5-8.5","x":3.68,"y":2.43},{"s":"SSP5-8.5","x":3.48,"y":1.28},{"s":"SSP5-8.5","x":3.59,"y":1.35},{"s":"SSP5-8.5","x":3.79,"y":0.92},{"s":"SSP5-8.5","x":3.25,"y":0.22},{"s":"SSP5-8.5","x":3.53,"y":0.26},{"s":"SSP5-8.5","x":3.84,"y":0.32},{"s":"SSP5-8.5","x":3.87,"y":0.19},{"s":"SSP5-8.5","x":3.34,"y":0.02},{"s":"SSP5-8.5","x":3.75,"y":0.03},{"s":"SSP5-8.5","x":3.94,"y":0.06},{"s":"SSP5-8.5","x":3.39,"y":-0.4},{"s":"SSP5-8.5","x":3.97,"y":-0.52},{"s":"SSP5-8.5","x":2.98,"y":-1.14},{"s":"SSP5-8.5","x":3.58,"y":-1.19},{"s":"SSP5-8.5","x":3.99,"y":-1.57}
    ]
  },
  "title": {"text": "As figure 1 but for the annual maximum wind speed (m s⁻¹). Note the scale on the y-axis varies between panels.", "orient": "bottom", "anchor": "start", "frame": "bounds", "dx": 110, "offset": -22, "font": "Liberation Serif", "fontSize": 21.5, "fontWeight": "normal", "color": "black"},
  "resolve": {"scale": {"color": "independent", "shape": "independent", "size": "independent"}, "legend": {"color": "independent", "shape": "independent", "size": "independent"}},
  "vconcat": [
    {
      "title": {"text": "Figure 2.", "orient": "bottom", "anchor": "start", "frame": "bounds", "dx": -97, "offset": 33, "font": "Liberation Serif", "fontSize": 22, "fontWeight": "bold", "color": "black"},
      "resolve": {"scale": {"color": "independent", "shape": "independent", "size": "independent"}, "legend": {"color": "independent", "shape": "independent", "size": "independent"}},
      "vconcat": [
        {
          "title": {"text": "sfcWind", "anchor": "middle", "fontSize": 18, "fontWeight": "normal", "font": "DejaVu Sans", "color": "black", "offset": 14},
          "spacing": 17,
          "resolve": {"scale": {"color": "independent", "shape": "independent", "size": "independent"}, "legend": {"color": "independent", "shape": "independent", "size": "independent"}},
          "vconcat": [
            {
              "spacing": 15,
              "resolve": {"scale": {"color": "independent", "shape": "independent", "size": "independent"}, "legend": {"color": "independent", "shape": "independent", "size": "independent"}},
              "hconcat": [
                {
                  "title": {"text": "a) Beijing", "anchor": "start", "frame": "group", "fontSize": 13.5, "fontWeight": "normal", "font": "DejaVu Sans", "color": "black", "offset": 6},
                  "width": 408, "height": 293,
                  "data": {"name": "a"},
                  "layer": [
                    {"mark": {"type": "point", "filled": true, "opacity": 1},
                     "encoding": {
                       "x": {"field": "x", "type": "quantitative", "scale": {"domain": [0.5, 4.1], "nice": false, "zero": false}, "axis": {"values": [0.5, 1, 1.5, 2, 2.5, 3, 3.5, 4], "labels": false, "title": null}},
                       "y": {"field": "y", "type": "quantitative", "scale": {"domain": [-3.71, 5.74], "nice": false, "zero": false}, "axis": {"values": [-2, 0, 2, 4], "title": "m/s"}},
                       "color": {"field": "s", "type": "nominal", "scale": {"domain": ["SSP1-2.6", "SSP2-4.5", "SSP5-8.5"], "range": ["#0000ff", "#008000", "#ff0000"]}, "legend": {"title": null, "orient": "top-right", "labelExpr": "datum.label == 'SSP1-2.6' ? 'SSP1-2.6 (R²= 0.01)' : datum.label == 'SSP2-4.5' ? 'SSP2-4.5 (R²= 0.02)' : 'SSP5-8.5 (R²= 0.03)'"}},
                       "shape": {"field": "s", "type": "nominal", "scale": {"domain": ["SSP1-2.6", "SSP2-4.5", "SSP5-8.5"], "range": ["circle", "square", "triangle-down"]}, "legend": {"title": null, "orient": "top-right", "labelExpr": "datum.label == 'SSP1-2.6' ? 'SSP1-2.6 (R²= 0.01)' : datum.label == 'SSP2-4.5' ? 'SSP2-4.5 (R²= 0.02)' : 'SSP5-8.5 (R²= 0.03)'"}},
                       "size": {"field": "s", "type": "nominal", "scale": {"domain": ["SSP1-2.6", "SSP2-4.5", "SSP5-8.5"], "range": [62, 54, 100]}, "legend": {"title": null, "orient": "top-right", "labelExpr": "datum.label == 'SSP1-2.6' ? 'SSP1-2.6 (R²= 0.01)' : datum.label == 'SSP2-4.5' ? 'SSP2-4.5 (R²= 0.02)' : 'SSP5-8.5 (R²= 0.03)'"}}
                     }},
                    {"mark": {"type": "rule", "strokeDash": [7, 4], "strokeWidth": 2, "color": "black"}, "encoding": {"y": {"datum": 0}}}
                  ]
                },
                {
                  "title": {"text": "b) New York", "anchor": "start", "frame": "group", "fontSize": 13.5, "fontWeight": "normal", "font": "DejaVu Sans", "color": "black", "offset": 6},
                  "width": 410, "height": 293,
                  "data": {"name": "b"},
                  "layer": [
                    {"mark": {"type": "point", "filled": true, "opacity": 1},
                     "encoding": {
                       "x": {"field": "x", "type": "quantitative", "scale": {"domain": [0.5, 4.1], "nice": false, "zero": false}, "axis": {"values": [0.5, 1, 1.5, 2, 2.5, 3, 3.5, 4], "labels": false, "title": null}},
                       "y": {"field": "y", "type": "quantitative", "scale": {"domain": [-4.42, 3.29], "nice": false, "zero": false}, "axis": {"values": [-4, -3, -2, -1, 0, 1, 2, 3], "title": null}},
                       "color": {"field": "s", "type": "nominal", "scale": {"domain": ["SSP1-2.6", "SSP2-4.5", "SSP5-8.5"], "range": ["#0000ff", "#008000", "#ff0000"]}, "legend": {"title": null, "orient": "top-right", "labelExpr": "datum.label == 'SSP1-2.6' ? 'SSP1-2.6 (R²= 0.00)' : datum.label == 'SSP2-4.5' ? 'SSP2-4.5 (R²= 0.00)' : 'SSP5-8.5 (R²= 0.00)'"}},
                       "shape": {"field": "s", "type": "nominal", "scale": {"domain": ["SSP1-2.6", "SSP2-4.5", "SSP5-8.5"], "range": ["circle", "square", "triangle-down"]}, "legend": {"title": null, "orient": "top-right", "labelExpr": "datum.label == 'SSP1-2.6' ? 'SSP1-2.6 (R²= 0.00)' : datum.label == 'SSP2-4.5' ? 'SSP2-4.5 (R²= 0.00)' : 'SSP5-8.5 (R²= 0.00)'"}},
                       "size": {"field": "s", "type": "nominal", "scale": {"domain": ["SSP1-2.6", "SSP2-4.5", "SSP5-8.5"], "range": [62, 54, 100]}, "legend": {"title": null, "orient": "top-right", "labelExpr": "datum.label == 'SSP1-2.6' ? 'SSP1-2.6 (R²= 0.00)' : datum.label == 'SSP2-4.5' ? 'SSP2-4.5 (R²= 0.00)' : 'SSP5-8.5 (R²= 0.00)'"}}
                     }},
                    {"mark": {"type": "rule", "strokeDash": [7, 4], "strokeWidth": 2, "color": "black"}, "encoding": {"y": {"datum": 0}}}
                  ]
                }
              ]
            },
            {
              "spacing": 15,
              "resolve": {"scale": {"color": "independent", "shape": "independent", "size": "independent"}, "legend": {"color": "independent", "shape": "independent", "size": "independent"}},
              "hconcat": [
                {
                  "title": {"text": "c) London", "anchor": "start", "frame": "group", "fontSize": 13.5, "fontWeight": "normal", "font": "DejaVu Sans", "color": "black", "offset": 6},
                  "width": 408, "height": 292,
                  "data": {"name": "c"},
                  "layer": [
                    {"mark": {"type": "point", "filled": true, "opacity": 1},
                     "encoding": {
                       "x": {"field": "x", "type": "quantitative", "scale": {"domain": [0.5, 4.1], "nice": false, "zero": false}, "axis": {"values": [0.5, 1, 1.5, 2, 2.5, 3, 3.5, 4], "format": ".1f", "title": "Change in global mean temperature (ᵒC)"}},
                       "y": {"field": "y", "type": "quantitative", "scale": {"domain": [-5.06, 5.65], "nice": false, "zero": false}, "axis": {"values": [-4, -2, 0, 2, 4], "title": "m/s"}},
                       "color": {"field": "s", "type": "nominal", "scale": {"domain": ["SSP1-2.6", "SSP2-4.5", "SSP5-8.5"], "range": ["#0000ff", "#008000", "#ff0000"]}, "legend": {"title": null, "orient": "none", "legendX": 16, "legendY": 8, "labelExpr": "datum.label == 'SSP1-2.6' ? 'SSP1-2.6 (R²= 0.00)' : datum.label == 'SSP2-4.5' ? 'SSP2-4.5 (R²= 0.01)' : 'SSP5-8.5 (R²= 0.00)'"}},
                       "shape": {"field": "s", "type": "nominal", "scale": {"domain": ["SSP1-2.6", "SSP2-4.5", "SSP5-8.5"], "range": ["circle", "square", "triangle-down"]}, "legend": {"title": null, "orient": "none", "legendX": 16, "legendY": 8, "labelExpr": "datum.label == 'SSP1-2.6' ? 'SSP1-2.6 (R²= 0.00)' : datum.label == 'SSP2-4.5' ? 'SSP2-4.5 (R²= 0.01)' : 'SSP5-8.5 (R²= 0.00)'"}},
                       "size": {"field": "s", "type": "nominal", "scale": {"domain": ["SSP1-2.6", "SSP2-4.5", "SSP5-8.5"], "range": [62, 54, 100]}, "legend": {"title": null, "orient": "none", "legendX": 16, "legendY": 8, "labelExpr": "datum.label == 'SSP1-2.6' ? 'SSP1-2.6 (R²= 0.00)' : datum.label == 'SSP2-4.5' ? 'SSP2-4.5 (R²= 0.01)' : 'SSP5-8.5 (R²= 0.00)'"}}
                     }},
                    {"mark": {"type": "rule", "strokeDash": [7, 4], "strokeWidth": 2, "color": "black"}, "encoding": {"y": {"datum": 0}}}
                  ]
                },
                {
                  "title": {"text": "d) Mumbai", "anchor": "start", "frame": "group", "fontSize": 13.5, "fontWeight": "normal", "font": "DejaVu Sans", "color": "black", "offset": 6},
                  "width": 410, "height": 292,
                  "data": {"name": "d"},
                  "layer": [
                    {"mark": {"type": "point", "filled": true, "opacity": 1},
                     "encoding": {
                       "x": {"field": "x", "type": "quantitative", "scale": {"domain": [0.5, 4.1], "nice": false, "zero": false}, "axis": {"values": [0.5, 1, 1.5, 2, 2.5, 3, 3.5, 4], "format": ".1f", "title": "Change in global mean temperature (ᵒC)"}},
                       "y": {"field": "y", "type": "quantitative", "scale": {"domain": [-3.1, 4.44], "nice": false, "zero": false}, "axis": {"values": [-3, -2, -1, 0, 1, 2, 3, 4], "title": null}},
                       "color": {"field": "s", "type": "nominal", "scale": {"domain": ["SSP1-2.6", "SSP2-4.5", "SSP5-8.5"], "range": ["#0000ff", "#008000", "#ff0000"]}, "legend": {"title": null, "orient": "none", "legendX": 16, "legendY": 8, "labelExpr": "datum.label == 'SSP1-2.6' ? 'SSP1-2.6 (R²= 0.02)' : datum.label == 'SSP2-4.5' ? 'SSP2-4.5 (R²= 0.04)' : 'SSP5-8.5 (R²= 0.01)'"}},
                       "shape": {"field": "s", "type": "nominal", "scale": {"domain": ["SSP1-2.6", "SSP2-4.5", "SSP5-8.5"], "range": ["circle", "square", "triangle-down"]}, "legend": {"title": null, "orient": "none", "legendX": 16, "legendY": 8, "labelExpr": "datum.label == 'SSP1-2.6' ? 'SSP1-2.6 (R²= 0.02)' : datum.label == 'SSP2-4.5' ? 'SSP2-4.5 (R²= 0.04)' : 'SSP5-8.5 (R²= 0.01)'"}},
                       "size": {"field": "s", "type": "nominal", "scale": {"domain": ["SSP1-2.6", "SSP2-4.5", "SSP5-8.5"], "range": [62, 54, 100]}, "legend": {"title": null, "orient": "none", "legendX": 16, "legendY": 8, "labelExpr": "datum.label == 'SSP1-2.6' ? 'SSP1-2.6 (R²= 0.02)' : datum.label == 'SSP2-4.5' ? 'SSP2-4.5 (R²= 0.04)' : 'SSP5-8.5 (R²= 0.01)'"}}
                     }},
                    {"mark": {"type": "rule", "strokeDash": [7, 4], "strokeWidth": 2, "color": "black"}, "encoding": {"y": {"datum": 0}}}
                  ]
                }
              ]
            }
          ]
        }
      ]
    }
  ]
}
